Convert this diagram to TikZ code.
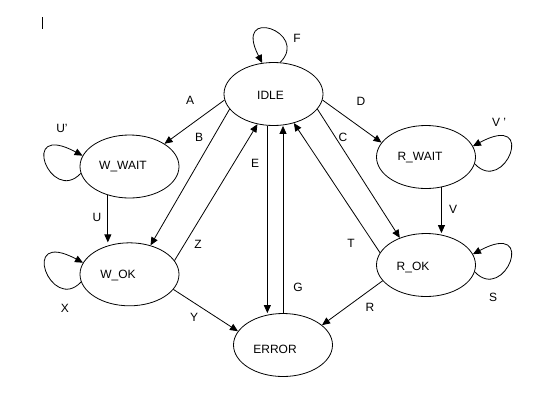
\documentclass[tikz,border=0pt]{standalone}
\usepackage{fontspec}
\setmainfont{Liberation Sans}
\usetikzlibrary{shapes.geometric,arrows.meta}
\begin{document}
\begin{tikzpicture}[x=1pt,y=-1pt,
  state/.style={draw, ellipse, minimum width=99pt, minimum height=63pt, inner sep=0pt, line width=0.8pt},
  tr/.style={line width=0.8pt, -{Triangle[length=8pt,width=7pt]}},
  lbl/.style={font=\fontsize{12}{14}\selectfont, inner sep=0pt},
  every label/.style={font=\fontsize{12}{14}\selectfont, inner sep=0pt}
]
\useasboundingbox (0,0) rectangle (559,410);
% cursor mark
\coordinate (cur1) at (42,17);
\coordinate (cur2) at (42,29);
\draw[line width=0.8pt] (cur1) -- (cur2);

\node[state, label={[xshift=-3pt,yshift=-1pt]center:IDLE}] (IDLE) at (273.5,94) {};
\node[state, label={[xshift=-6.5pt]center:W\_WAIT}] (W_WAIT) at (129.5,166.5) {};
\node[state, label={[xshift=-11.5pt,yshift=-1.5pt]center:W\_OK}] (W_OK) at (129.5,274.3) {};
\node[state, label={[xshift=-6pt,yshift=-1pt]center:R\_WAIT}] (R_WAIT) at (426,157) {};
\node[state, label={[xshift=-13pt,yshift=-2pt]center:R\_OK}] (R_OK) at (426,265) {};
\node[state, label={[xshift=-8pt,yshift=-4pt]center:ERROR}] (ERROR) at (283,345) {};

% transitions
\draw[tr] (IDLE.187) -- (W_WAIT.33);
\draw[tr] (IDLE.199) -- (W_OK.54);
\draw[tr] (W_OK.17) -- (IDLE.242);
\draw[tr] (IDLE.259) -- (IDLE.259 |- ERROR.north);
\draw[tr] (ERROR.north) -- (ERROR.north |- IDLE.south);
\draw[tr] (IDLE.341) -- (R_OK.134);
\draw[tr] (R_OK.165) -- (IDLE.305);
\draw[tr] (IDLE.353) -- (R_WAIT.162);
\draw[tr] (R_WAIT.297) -- (R_WAIT.297 |- R_OK.north);
\draw[tr] (W_WAIT.233) -- (W_WAIT.233 |- W_OK.north);
\draw[tr] (W_OK.341) -- (ERROR.163);
\draw[tr] (R_OK.200) -- (ERROR.27);

% self loops
\draw[tr] (IDLE.78) .. controls +(30,-30) and +(-30,-58) .. (IDLE.110);
\draw[tr] (W_WAIT.188) .. controls +(-30,32) and +(-65,-35) .. (W_WAIT.167);
\draw[tr] (W_OK.189) .. controls +(-30,32) and +(-65,-35) .. (W_OK.166);
\draw[tr] (R_WAIT.352) .. controls +(30,32) and +(65,-35) .. (R_WAIT.13);
\draw[tr] (R_OK.352) .. controls +(30,32) and +(65,-35) .. (R_OK.13);

% labels
\node[lbl] (lA) at (190,100) {A};
\node[lbl] (lB) at (199,137) {B};
\node[lbl] (lUp) at (62,128) {U'};
\node[lbl] (lE) at (255,163) {E};
\node[lbl] (lF) at (297,38) {F};
\node[lbl] (lD) at (361,101) {D};
\node[lbl] (lC) at (343,137) {C};
\node[lbl] (lVp) at (499,122) {V '};
\node[lbl] (lU) at (97,217) {U};
\node[lbl] (lZ) at (198,244) {Z};
\node[lbl] (lX) at (65,308) {X};
\node[lbl] (lY) at (194,317) {Y};
\node[lbl] (lV) at (453,209) {V};
\node[lbl] (lT) at (351,243) {T};
\node[lbl] (lG) at (298,287) {G};
\node[lbl] (lR) at (370,307) {R};
\node[lbl] (lS) at (493,297) {S};
\end{tikzpicture}
\end{document}
